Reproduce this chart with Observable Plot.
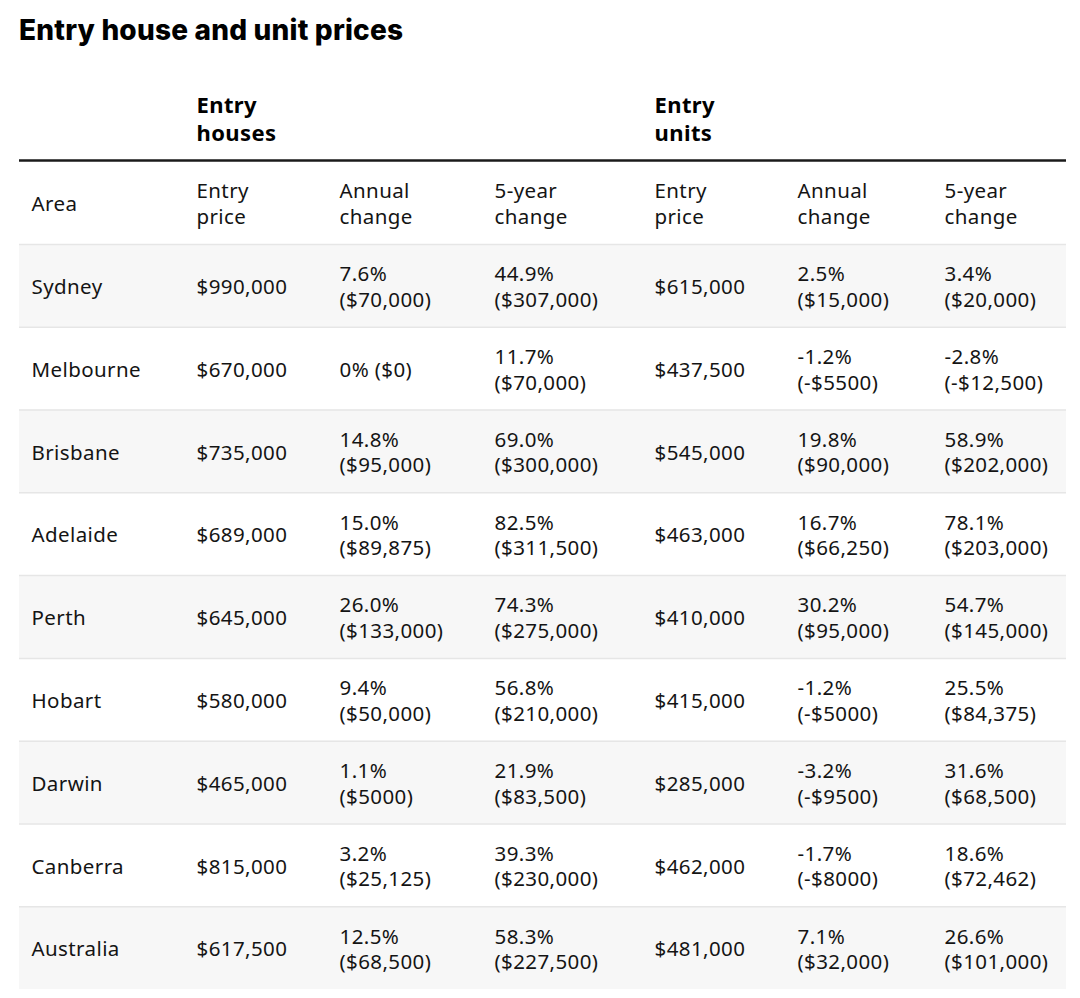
<!DOCTYPE html>
<html><head><meta charset="utf-8">
<script src="https://cdn.jsdelivr.net/npm/d3@7"></script>
<script src="https://cdn.jsdelivr.net/npm/@observablehq/plot@0.6"></script>
<style>
body{margin:0;background:#fff;color:#141414;font-family:"Noto Sans",sans-serif}
h1{margin:0;padding:16px 0 0 19px;height:44px;box-sizing:content-box;font:800 28px/1 Inter,sans-serif;letter-spacing:0.2px;color:#000}
#chart svg{display:block}
</style></head><body>
<h1>Entry house and unit prices</h1>
<div id="chart"></div>
<script>
const areas = ["Sydney","Melbourne","Brisbane","Adelaide","Perth","Hobart","Darwin","Canberra","Australia"];
const houseEntry = ["$990,000","$670,000","$735,000","$689,000","$645,000","$580,000","$465,000","$815,000","$617,500"];
const houseAnnual = ["7.6% ($70,000)","0% ($0)","14.8% ($95,000)","15.0% ($89,875)","26.0% ($133,000)","9.4% ($50,000)","1.1% ($5000)","3.2% ($25,125)","12.5% ($68,500)"];
const houseFiveYear = ["44.9% ($307,000)","11.7% ($70,000)","69.0% ($300,000)","82.5% ($311,500)","74.3% ($275,000)","56.8% ($210,000)","21.9% ($83,500)","39.3% ($230,000)","58.3% ($227,500)"];
const unitEntry = ["$615,000","$437,500","$545,000","$463,000","$410,000","$415,000","$285,000","$462,000","$481,000"];
const unitAnnual = ["2.5% ($15,000)","-1.2% (-$5500)","19.8% ($90,000)","16.7% ($66,250)","30.2% ($95,000)","-1.2% (-$5000)","-3.2% (-$9500)","-1.7% (-$8000)","7.1% ($32,000)"];
const unitFiveYear = ["3.4% ($20,000)","-2.8% (-$12,500)","58.9% ($202,000)","78.1% ($203,000)","54.7% ($145,000)","25.5% ($84,375)","31.6% ($68,500)","18.6% ($72,462)","26.6% ($101,000)"];
const groupHeaders = ["Entry houses","Entry units"];
const columnHeaders = ["Area","Entry price","Annual change","5-year change","Entry price","Annual change","5-year change"];

// break "pct (amount)" onto two lines unless it is short
const wrap = s => (s.includes(" (") && s.length > 8) ? s.replace(" (", "\n(") : s;

const columnsData = [areas, houseEntry, houseAnnual, houseFiveYear, unitEntry, unitAnnual, unitFiveYear];
const cells = [];
columnsData.forEach((col, j) => col.forEach((v, i) => cells.push({row: i + 1, col: j + 1, text: wrap(v)})));
const headers = columnHeaders.map((t, j) => ({row: 0, col: j + 1, text: t.replace(" ", "\n")}));
const groups = groupHeaders.map((t, k) => ({row: -1, col: k === 0 ? 2 : 5, text: t.replace(" ", "\n")}));
const shaded = areas.map((a, i) => i + 1).filter(r => r % 2 === 1);
const separators = areas.map((a, i) => i + 0.5);

const chart = Plot.plot({
  width: 1080,
  height: 938,
  margin: 0,
  x: {type: "linear", domain: [0, 1, 2, 3, 4, 5, 6, 7, 8], range: [19, 31, 196, 339, 494, 654, 797, 944, 1066], axis: null},
  y: {type: "linear", domain: [-1, -0.5, 0.5, 9.5], range: [58, 100, 184, 929], axis: null},
  style: {fontFamily: "'Noto Sans', sans-serif", color: "#141414", background: "#fff", letterSpacing: "0.4px"},
  marks: [
    Plot.rect(shaded, {x1: 0, x2: 8, y1: r => r - 0.5, y2: r => r + 0.5, fill: "#f7f7f7"}),
    Plot.ruleY(separators, {x1: 0, x2: 8, stroke: "#e6e6e6", strokeWidth: 1.5}),
    Plot.ruleY([-0.5], {x1: 0, x2: 8, stroke: "#1a1a1a", strokeWidth: 2.5}),
    Plot.text(groups, {x: "col", y: "row", text: "text", textAnchor: "start", fontSize: 22, fontWeight: 700, lineHeight: 1.27, fill: "#000"}),
    Plot.text(headers, {x: "col", y: "row", text: "text", textAnchor: "start", fontSize: 20.5, lineHeight: 1.28}),
    Plot.text(cells, {x: "col", y: "row", text: "text", textAnchor: "start", fontSize: 20.5, lineHeight: 1.25})
  ]
});
document.getElementById("chart").append(chart);
</script>
</body></html>
